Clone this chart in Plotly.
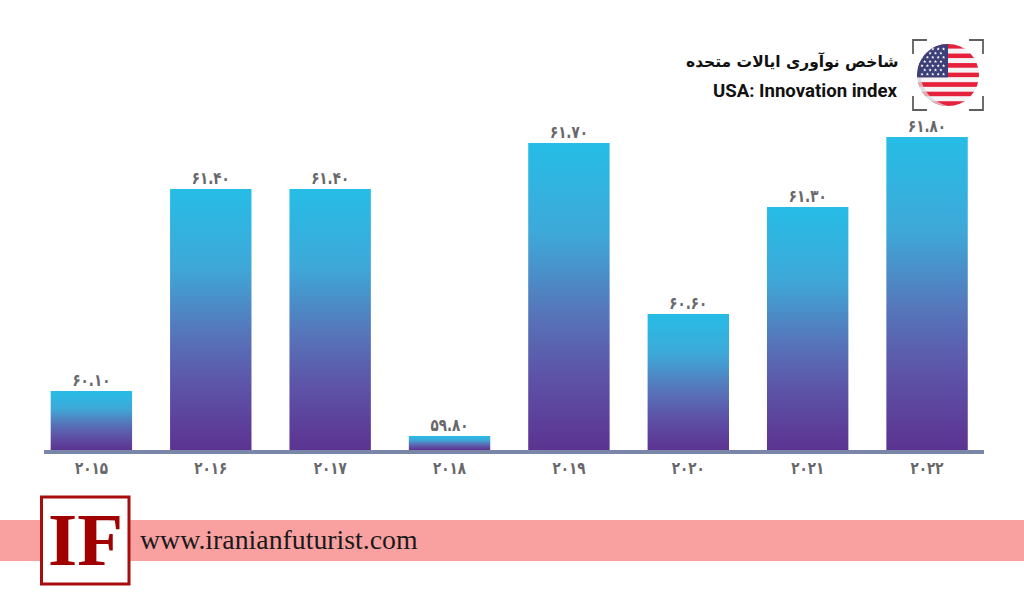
import base64
import plotly.graph_objects as go

years_fa = ["۲۰۱۵", "۲۰۱۶", "۲۰۱۷", "۲۰۱۸", "۲۰۱۹", "۲۰۲۰", "۲۰۲۱", "۲۰۲۲"]
# Drawn bar heights (the artwork is not strictly to scale with its labels)
bar_heights = [60.1, 61.452, 61.452, 59.8, 61.76, 60.616, 61.332, 61.8]
labels_fa = ["۶۰.۱۰", "۶۱.۴۰", "۶۱.۴۰", "۵۹.۸۰", "۶۱.۷۰", "۶۰.۶۰", "۶۱.۳۰", "۶۱.۸۰"]
axis_floor = 59.706
axis_ceiling = 62.047
title_fa = "شاخص نوآوری ایالات متحده"
title_en = "USA: Innovation index"
site = "www.iranianfuturist.com"
W, H = 1024, 607
L, R, T, B = 44, 40, 100, 157


def px(x):
    return (x - L) / (W - L - R)


def py(y):
    return 1 - (y - T) / (H - T - B)


def flag_svg():
    rows = []
    h = 62 / 13
    for i in range(13):
        c = "#e5213c" if i % 2 == 0 else "#f4f4f6"
        rows.append(f'<rect x="5" y="{5 + i * h:.2f}" width="62" height="{h:.2f}" fill="{c}"/>')
    stars = []
    for r in range(7):
        for c in range(5 if r % 2 == 0 else 4):
            sx = 10 + c * 5.4 + (2.7 if r % 2 else 0)
            sy = 10 + r * 4.2
            stars.append(
                f'<polygon transform="translate({sx:.1f},{sy:.1f}) scale(1.7)" fill="#fff" '
                'points="0,-1 .29,-.31 .95,-.31 .42,.12 .59,.81 0,.4 -.59,.81 -.42,.12 -.95,-.31 -.29,-.31"/>'
            )
    frame = (
        '<path d="M1,15 V1 H15 M57,1 H71 V15 M71,57 V71 H57 M15,71 H1 V57" '
        'fill="none" stroke="#5f5f5f" stroke-width="1.8"/>'
    )
    shade = (
        '<path d="M5,38.4 H9 C10,52 20,62 36,67 C18,67 5,54 5,38.4 Z" fill="#d9d9de" opacity="0.75"/>'
    )
    svg = (
        '<svg xmlns="http://www.w3.org/2000/svg" width="720" height="720" viewBox="0 0 72 72">'
        '<defs><clipPath id="c"><circle cx="36" cy="36" r="31"/></clipPath></defs>'
        + frame
        + '<g clip-path="url(#c)">'
        + "".join(rows)
        + shade
        + '<rect x="5" y="5" width="31" height="33.4" fill="#3c3f78"/>'
        + "".join(stars)
        + "</g></svg>"
    )
    return "data:image/svg+xml;base64," + base64.b64encode(svg.encode()).decode()


fig = go.Figure(
    go.Bar(
        x=list(range(len(bar_heights))),
        y=[v - axis_floor for v in bar_heights],
        base=axis_floor,
        width=0.682,
        marker=dict(color="#4a78b8", line=dict(width=0)),
        text=labels_fa,
        textposition="outside",
        cliponaxis=False,
        textfont=dict(family="DejaVu Sans", size=17, color="#68686c", weight=700),
        hoverinfo="skip",
    )
)

fig.update_layout(
    width=W,
    height=H,
    margin=dict(l=L, r=R, t=T, b=B, pad=0),
    paper_bgcolor="white",
    plot_bgcolor="white",
    showlegend=False,
    xaxis=dict(
        range=[-0.397, 7.477],
        tickmode="array",
        tickvals=list(range(len(years_fa))),
        ticktext=years_fa,
        tickfont=dict(family="DejaVu Sans", size=17, color="#68686c", weight=700),
        ticklen=0,
        showgrid=False,
        zeroline=False,
        showline=True,
        linecolor="#7a86a8",
        linewidth=4,
        ticklabelstandoff=0,
    ),
    yaxis=dict(range=[axis_floor, axis_ceiling], visible=False),
    shapes=[
        dict(type="rect", xref="paper", yref="paper", x0=px(0), x1=px(W), y0=py(561), y1=py(520),
             fillcolor="#f9a1a1", line_width=0, layer="below"),
        dict(type="rect", xref="paper", yref="paper", x0=px(41.5), x1=px(129), y0=py(584), y1=py(497),
             fillcolor="white", line=dict(color="#a80d0d", width=3), layer="below"),
    ],
    images=[
        dict(source=flag_svg(), xref="paper", yref="paper", x=px(912), y=py(39),
             sizex=72 / (W - L - R), sizey=72 / (H - T - B), xanchor="left", yanchor="top",
             sizing="stretch", layer="above"),
    ],
    annotations=[
        dict(text=title_fa, xref="paper", yref="paper", x=px(900), y=py(61), xanchor="right", yanchor="middle",
             showarrow=False, font=dict(family="DejaVu Sans", size=15.5, color="#111111", weight=700)),
        dict(text=title_en, xref="paper", yref="paper", x=px(899.5), y=py(91), xanchor="right", yanchor="middle",
             showarrow=False, font=dict(family="Roboto", size=18.6, color="#111111", weight=700)),
        dict(text="IF", xref="paper", yref="paper", x=px(85.5), y=py(539), xanchor="center", yanchor="middle",
             showarrow=False, font=dict(family="Liberation Serif", size=75, color="#a00000", weight=700)),
        dict(text=site, xref="paper", yref="paper", x=px(138), y=py(539), xanchor="left", yanchor="middle",
             showarrow=False, font=dict(family="Liberation Serif", size=27.8, color="#1a1a1a")),
    ],
)

post = """
document.body.style.margin = '0';
var gd = document.getElementById('{plot_id}');
var svg = gd.querySelector('svg.main-svg');
var ns = 'http://www.w3.org/2000/svg';
var defs = svg.querySelector('defs');
var g = document.createElementNS(ns, 'linearGradient');
g.setAttribute('id', 'barGrad');
g.setAttribute('x1', '0'); g.setAttribute('y1', '0');
g.setAttribute('x2', '0'); g.setAttribute('y2', '1');
[['0%', '#26bde6'], ['30%', '#3ea8d8'], ['55%', '#5676ba'], ['75%', '#5d54a8'], ['100%', '#5c3391']].forEach(function (s) {
  var st = document.createElementNS(ns, 'stop');
  st.setAttribute('offset', s[0]); st.setAttribute('stop-color', s[1]);
  g.appendChild(st);
});
defs.appendChild(g);
gd.querySelectorAll('.bars .point path').forEach(function (p) {
  p.style.fill = 'url(#barGrad)';
});
function squeeze() {
  gd.querySelectorAll('.bars text').forEach(function (t) {
    t.setAttribute('textLength', '38');
    t.setAttribute('lengthAdjust', 'spacingAndGlyphs');
    t.setAttribute('dy', '2');
  });
  gd.querySelectorAll('.xtick text').forEach(function (t) {
    t.setAttribute('textLength', '33');
    t.setAttribute('lengthAdjust', 'spacingAndGlyphs');
  });
}
squeeze();
setTimeout(squeeze, 50);
setTimeout(squeeze, 300);
"""

fig.write_html("out.html", config=dict(displayModeBar=False), post_script=post)
